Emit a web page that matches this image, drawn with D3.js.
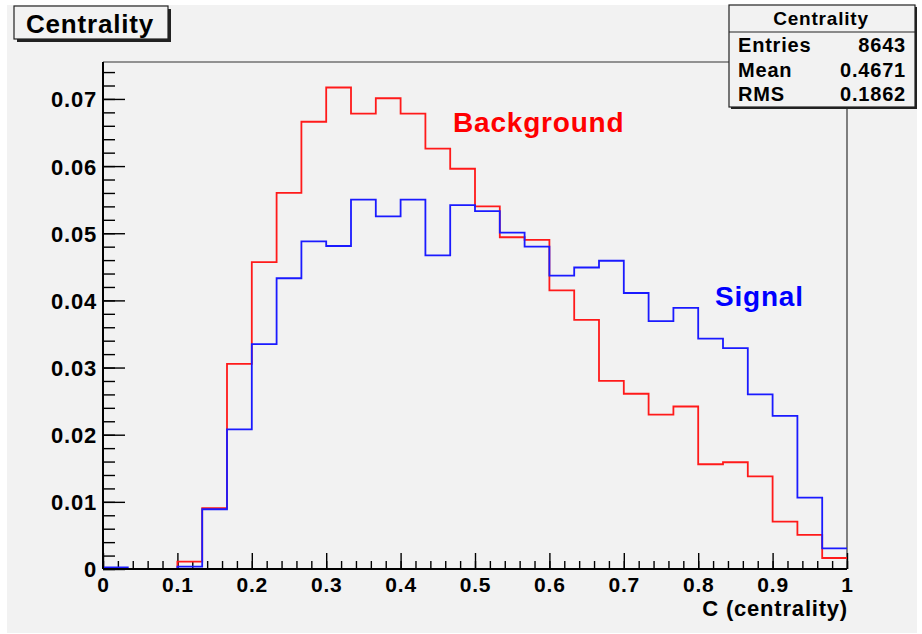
<!DOCTYPE html>
<html>
<head>
<meta charset="utf-8">
<script src="https://cdn.jsdelivr.net/npm/d3@7"></script>
<style>
  body { margin: 0; background: #fff; }
  svg text { font-family: "Liberation Sans", Arial, Helvetica, sans-serif; font-weight: bold; letter-spacing: 0.8px; }
</style>
</head>
<body>
<div id="chart"></div>
<script>
// 30 bins on [0, 1], normalised centrality distributions
var nBins = 30;
var background = [0, 0, 0, 0.0011, 0.00905, 0.03055, 0.0457, 0.0560, 0.0666, 0.0717,
                  0.0678, 0.0701, 0.0678, 0.0626, 0.0596, 0.0540, 0.0494, 0.0490, 0.0415, 0.0371,
                  0.0280, 0.0261, 0.0230, 0.0242, 0.0156, 0.0159, 0.0138, 0.00705, 0.00507, 0.00164];
var signal = [0.00025, 0, 0, 0.00035, 0.0089, 0.0208, 0.0335, 0.0433, 0.0488, 0.0481,
              0.0550, 0.0525, 0.0550, 0.0467, 0.0542, 0.0533, 0.0501, 0.0480, 0.0437, 0.0449,
              0.0459, 0.0411, 0.0369, 0.0389, 0.0343, 0.0329, 0.0260, 0.0228, 0.01063, 0.00308];
var xTicks = [0, 0.1, 0.2, 0.3, 0.4, 0.5, 0.6, 0.7, 0.8, 0.9, 1];
var yTicks = [0, 0.01, 0.02, 0.03, 0.04, 0.05, 0.06, 0.07];
var statNames = ["Entries", "Mean", "RMS"];
var statValues = ["8643", "0.4671", "0.1862"];

var W = 922, H = 634;
var frame = {left: 103, right: 847, top: 62, bottom: 569};

var svg = d3.select("#chart").append("svg")
    .attr("width", W)
    .attr("height", H);

// canvas
svg.append("rect")
    .attr("x", 7).attr("y", 5)
    .attr("width", 910).attr("height", 628)
    .attr("fill", "#f2f2f2");

var x = d3.scaleLinear().domain([0, 1]).range([frame.left, frame.right]);
var y = d3.scaleLinear().domain([0, 0.0755]).range([frame.bottom, frame.top]);

// frame top / right
svg.append("path")
    .attr("d", "M" + frame.left + "," + frame.top + "H" + frame.right + "V" + frame.bottom)
    .attr("fill", "none")
    .attr("stroke", "#333")
    .attr("stroke-width", 1.2);

// minor ticks
var xMinor = d3.range(0, 51).map(function(i) { return i / 50; });
var yMinor = d3.range(0, 38).map(function(i) { return i * 0.002; });

svg.append("g")
    .attr("transform", "translate(0," + frame.bottom + ")")
    .call(d3.axisBottom(x).tickValues(xMinor).tickSize(-8).tickFormat(""))
    .call(function(g) { g.select(".domain").remove(); })
    .selectAll("line").attr("stroke", "#000").attr("stroke-width", 1.4);

svg.append("g")
    .attr("transform", "translate(" + frame.left + ",0)")
    .call(d3.axisLeft(y).tickValues(yMinor).tickSize(-12).tickFormat(""))
    .call(function(g) { g.select(".domain").remove(); })
    .selectAll("line").attr("stroke", "#000").attr("stroke-width", 1.4);

// major ticks with labels
var xAxis = svg.append("g")
    .attr("transform", "translate(0," + frame.bottom + ")")
    .call(d3.axisBottom(x).tickValues(xTicks).tickSize(-16).tickPadding(8)
        .tickFormat(function(d) { return String(+d.toFixed(2)); }));
xAxis.select(".domain").remove();
xAxis.selectAll("line").attr("stroke", "#000").attr("stroke-width", 1.4);
xAxis.selectAll("text").attr("font-size", 21).attr("fill", "#000").attr("font-family", null);

var yAxis = svg.append("g")
    .attr("transform", "translate(" + frame.left + ",0)")
    .call(d3.axisLeft(y).tickValues(yTicks).tickSize(-22).tickPadding(6)
        .tickFormat(function(d) { return String(+d.toFixed(3)); }));
yAxis.select(".domain").remove();
yAxis.selectAll("line").attr("stroke", "#000").attr("stroke-width", 1.4);
yAxis.selectAll("text").attr("font-size", 22).attr("fill", "#000").attr("font-family", null)
    .attr("dy", "0.36em");

// histograms
function stepPath(values) {
    var pts = [];
    values.forEach(function(v, i) {
        pts.push([x(i / nBins), y(v)]);
        pts.push([x((i + 1) / nBins), y(v)]);
    });
    return d3.line()(pts);
}

svg.append("path")
    .attr("d", stepPath(background))
    .attr("fill", "none")
    .attr("stroke", "#ff1a1a")
    .attr("stroke-width", 1.8);

svg.append("path")
    .attr("d", stepPath(signal))
    .attr("fill", "none")
    .attr("stroke", "#1a1aff")
    .attr("stroke-width", 1.8);

// axis lines
svg.append("line")
    .attr("x1", frame.left).attr("x2", frame.left)
    .attr("y1", frame.top).attr("y2", frame.bottom)
    .attr("stroke", "#000").attr("stroke-width", 2);
svg.append("line")
    .attr("x1", frame.left).attr("x2", frame.right)
    .attr("y1", frame.bottom).attr("y2", frame.bottom)
    .attr("stroke", "#000").attr("stroke-width", 2);

// axis title
svg.append("text")
    .attr("x", frame.right + 1).attr("y", 616)
    .attr("text-anchor", "end")
    .attr("font-size", 22)
    .text("C (centrality)");

// labels
svg.append("text")
    .attr("x", 453).attr("y", 132)
    .attr("font-size", 28)
    .attr("fill", "#ff0000")
    .text("Background");

svg.append("text")
    .attr("x", 715).attr("y", 306)
    .attr("font-size", 28)
    .attr("fill", "#0000ff")
    .text("Signal");

// title box
var tb = {x: 14, y: 6, w: 154, h: 33};
svg.append("rect")
    .attr("x", tb.x + 3).attr("y", tb.y + 3)
    .attr("width", tb.w).attr("height", tb.h)
    .attr("fill", "#222");
svg.append("rect")
    .attr("x", tb.x).attr("y", tb.y)
    .attr("width", tb.w).attr("height", tb.h)
    .attr("fill", "#f2f2f2")
    .attr("stroke", "#222").attr("stroke-width", 1.2);
svg.append("text")
    .attr("x", 26).attr("y", 33)
    .attr("font-size", 26)
    .text("Centrality");

// stats box
var sb = {x: 729, y: 5, w: 186, h: 102};
svg.append("rect")
    .attr("x", sb.x + 2).attr("y", sb.y + 2)
    .attr("width", sb.w).attr("height", sb.h)
    .attr("fill", "#222");
svg.append("rect")
    .attr("x", sb.x).attr("y", sb.y)
    .attr("width", sb.w).attr("height", sb.h)
    .attr("fill", "#f2f2f2")
    .attr("stroke", "#222").attr("stroke-width", 1.2);
svg.append("line")
    .attr("x1", sb.x).attr("x2", sb.x + sb.w)
    .attr("y1", 32).attr("y2", 32)
    .attr("stroke", "#222").attr("stroke-width", 1.2);
svg.append("text")
    .attr("x", 821).attr("y", 25)
    .attr("text-anchor", "middle")
    .attr("font-size", 19)
    .text("Centrality");

var rowY = [52, 77, 101];
statNames.forEach(function(name, i) {
    svg.append("text")
        .attr("x", 738).attr("y", rowY[i])
        .attr("font-size", 20)
        .text(name);
    svg.append("text")
        .attr("x", 906).attr("y", rowY[i])
        .attr("text-anchor", "end")
        .attr("font-size", 20)
        .text(statValues[i]);
});
</script>
</body>
</html>
